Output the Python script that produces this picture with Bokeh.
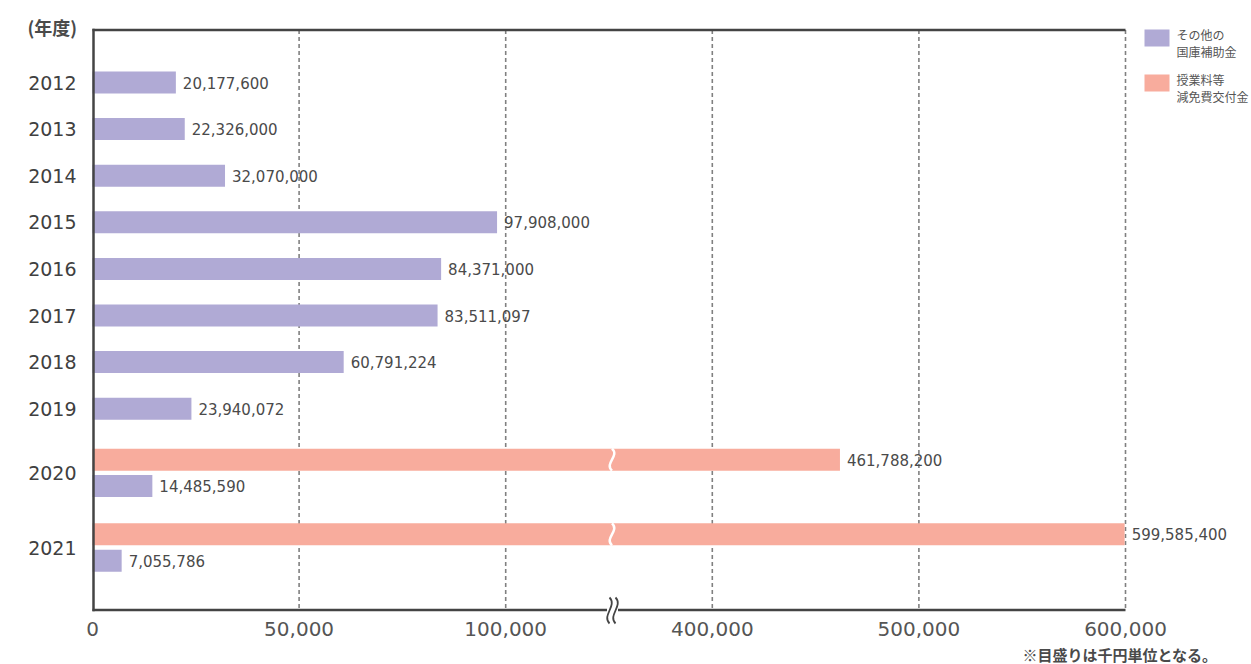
from bokeh.plotting import figure
from bokeh.models import Range1d
from bokeh.embed import file_html
from bokeh.resources import INLINE
from bokeh.core.properties import value

# ---------------- data ----------------
years = ["2012", "2013", "2014", "2015", "2016", "2017", "2018", "2019", "2020", "2021"]
other_subsidy = [20177600, 22326000, 32070000, 97908000, 84371000,
                 83511097, 60791224, 23940072, 14485590, 7055786]        # その他の国庫補助金 (円)
tuition_subsidy = [None, None, None, None, None, None, None, None,
                   461788200, 599585400]                                   # 授業料等減免費交付金 (円)
axis_ticks_k = [0, 50000, 100000, 400000, 500000, 600000]                  # 千円
series_names = [["その他の", "国庫補助金"], ["授業料等", "減免費交付金"]]
y_title = "(年度)"
note = "※目盛りは千円単位となる。"

# ---------------- style ----------------
PURPLE = "#b0aad5"
SALMON = "#f8ac9d"
TEXT = "#4a4a4a"
AXIS = "#444444"
JP = "Noto Sans CJK JP"
NUM = "DejaVu Sans"


# broken scale: 0..125,000 then 350,000..600,000 (thousand yen)
def to_t(k):
    return k / 50000.0 if k <= 125000 else 2.5 + (k - 350000) / 100000.0


PX = 206.6          # px per display unit
X0 = 92             # page x of zero


def px_t(px):       # page px -> display units
    return (px - X0) / PX


W, H = 1251, 664
p = figure(width=W, height=H, output_backend="svg", toolbar_location=None,
           x_range=Range1d(px_t(0), px_t(W)), y_range=Range1d(H, 0),
           x_axis_location=None, y_axis_location=None,
           min_border_left=0, min_border_right=0, min_border_top=0, min_border_bottom=0)
p.outline_line_color = None
p.xgrid.visible = False
p.ygrid.visible = False
p.background_fill_color = "white"
p.border_fill_color = "white"

# ---------------- row layout ----------------
ROW_SINGLE = 46.6
ROW_PAIR = 74.7
PAIR_OFF = 13.2
BAR_H = 22
y_cursor = 82 - ROW_SINGLE / 2
centers = []
for i, yr in enumerate(years):
    pair = tuition_subsidy[i] is not None
    if pair and (i == 0 or tuition_subsidy[i - 1] is None):
        y_cursor += 3.5
    h = ROW_PAIR if pair else ROW_SINGLE
    centers.append(y_cursor + h / 2)
    y_cursor += h

oy, ov = [], []
ty, tv = [], []
for i in range(len(years)):
    if tuition_subsidy[i] is None:
        oy.append(centers[i]); ov.append(other_subsidy[i])
    else:
        ty.append(centers[i] - PAIR_OFF); tv.append(tuition_subsidy[i])
        oy.append(centers[i] + PAIR_OFF); ov.append(other_subsidy[i])

o_right = [to_t(v / 1000) for v in ov]
t_right = [to_t(v / 1000) for v in tv]

TOP_Y, BOT_Y = 29.5, 609.5

# grid lines (dashed)
grid_t = [to_t(k) for k in axis_ticks_k if k > 0]
p.segment(x0=grid_t, x1=grid_t, y0=[TOP_Y] * len(grid_t), y1=[BOT_Y] * len(grid_t),
          line_color="#808080", line_width=1.6, line_dash="4 3")

# bars
p.hbar(y=oy, left=0, right=o_right, height=BAR_H, fill_color=PURPLE, line_color=None)
p.hbar(y=ty, left=0, right=t_right, height=BAR_H, fill_color=SALMON, line_color=None)

# break marks on salmon bars
brk_px = X0 + to_t(125000) * PX
bt = px_t(brk_px + 3)
amp = 8 / PX
p.bezier(x0=[bt] * len(ty), y0=[y - BAR_H / 2 for y in ty],
         x1=[bt] * len(ty), y1=[y + BAR_H / 2 for y in ty],
         cx0=[bt + amp] * len(ty), cy0=[y - BAR_H / 6 for y in ty],
         cx1=[bt - amp] * len(ty), cy1=[y + BAR_H / 6 for y in ty],
         line_color="white", line_width=2.5)

# value labels
p.text(x=o_right, y=oy, text=[f"{v:,}" for v in ov], x_offset=7,
       text_baseline="middle", text_align="left", text_font=value(NUM),
       text_font_size="15px", text_color=TEXT)
p.text(x=t_right, y=ty, text=[f"{v:,}" for v in tv], x_offset=7,
       text_baseline="middle", text_align="left", text_font=value(NUM),
       text_font_size="15px", text_color=TEXT)

# frame lines
end_t = to_t(axis_ticks_k[-1])
p.segment(x0=[0], x1=[end_t], y0=[TOP_Y], y1=[TOP_Y], line_color=AXIS, line_width=2.5)
gap_l, gap_r = px_t(brk_px - 2), px_t(brk_px + 9)
p.segment(x0=[0, gap_r], x1=[gap_l, end_t], y0=[BOT_Y, BOT_Y], y1=[BOT_Y, BOT_Y],
          line_color=AXIS, line_width=2.5)
p.segment(x0=[px_t(X0 + 1)], x1=[px_t(X0 + 1)], y0=[TOP_Y - 1.2], y1=[BOT_Y + 1.2],
          line_color=AXIS, line_width=2.5)

# axis break symbol
sym_x = [px_t(brk_px + 0.5), px_t(brk_px + 6.5)]
p.bezier(x0=sym_x, y0=[597, 597], x1=sym_x, y1=[623, 623],
         cx0=[x + amp for x in sym_x], cy0=[605, 605],
         cx1=[x - amp for x in sym_x], cy1=[615, 615],
         line_color=AXIS, line_width=1.8)

# y (year) tick labels
p.text(x=[px_t(76)] * len(years), y=centers, text=years,
       text_baseline="middle", text_align="right", text_font=value(NUM),
       text_font_size="19px", text_color="#404040")
# x tick labels
p.text(x=[to_t(k) for k in axis_ticks_k], y=[628] * len(axis_ticks_k),
       text=[f"{k:,}" for k in axis_ticks_k],
       text_baseline="middle", text_align="center", text_font=value(NUM),
       text_font_size="20px", text_color="#555555")

# axis title and note
p.text(x=[px_t(27)], y=[26], text=[y_title], text_baseline="middle", text_align="left",
       text_font=value(JP), text_font_size="18px", text_font_style="bold", text_color=TEXT)
p.text(x=[px_t(1217)], y=[654], text=[note], text_baseline="middle", text_align="right",
       text_font=value(JP), text_font_size="15px", text_font_style="bold", text_color=TEXT)

# legend
leg_colors = [PURPLE, SALMON]
leg_y = [37.5, 82.5]
p.rect(x=[px_t(1156.5)] * 2, y=leg_y, width=25, height=17,
       width_units="screen", height_units="screen", fill_color=leg_colors, line_color=None)
for yy, lines in zip(leg_y, series_names):
    p.text(x=[px_t(1176)] * 2, y=[yy - 4, yy + 13.5], text=lines,
           text_baseline="middle", text_align="left", text_font=value(JP),
           text_font_size="12px", text_color="#555555")

open("out.html", "w").write(file_html(p, INLINE))
